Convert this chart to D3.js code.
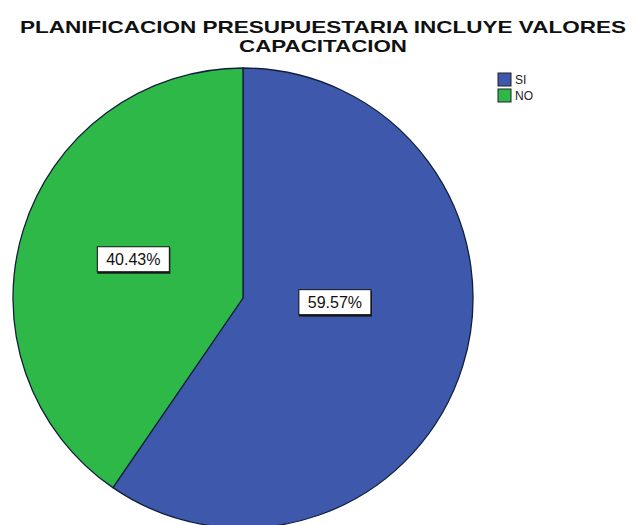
<!DOCTYPE html>
<html>
<head>
<meta charset="utf-8">
<script src="https://cdn.jsdelivr.net/npm/d3@7/dist/d3.min.js"></script>
<style>
  html, body { margin: 0; padding: 0; background: #fff; }
  svg { display: block; }
</style>
</head>
<body>
<svg id="chart" width="634" height="525"></svg>
<script>
// Survey answer: does the budget plan include training values?
const categories = ["SI", "NO"];
const percents = [59.57, 40.43];
const titleLines = ["PLANIFICACION PRESUPUESTARIA INCLUYE VALORES", "CAPACITACION"];

const colors = d3.scaleOrdinal().domain(categories).range(["#3e58ac", "#2eb848"]);

const svg = d3.select("#chart");
const cx = 243, cy = 298, radius = 230;

// Title, two tight lines
svg.append("g")
  .selectAll("text")
  .data(titleLines)
  .join("text")
  .attr("x", 323)
  .attr("y", (d, i) => 33 + i * 19)
  .attr("text-anchor", "middle")
  .attr("font-family", "Liberation Sans, Arial, sans-serif")
  .attr("font-weight", "bold")
  .attr("font-size", 17)
  .attr("fill", "#111")
  .attr("textLength", (d, i) => i === 0 ? 606 : 168)
  .attr("lengthAdjust", "spacingAndGlyphs")
  .text(d => d);

// Pie, starting at 12 o'clock going clockwise
const data = categories.map((c, i) => ({ cat: c, value: percents[i] }));
const pie = d3.pie().sort(null).value(d => d.value);
const arcs = pie(data);
const arc = d3.arc().innerRadius(0).outerRadius(radius);

const g = svg.append("g").attr("transform", `translate(${cx},${cy})`);
g.selectAll("path.slice")
  .data(arcs)
  .join("path")
  .attr("class", "slice")
  .attr("d", arc)
  .attr("fill", d => colors(d.data.cat))
  .attr("stroke", "#10203a")
  .attr("stroke-width", 1.3)
  .attr("stroke-linejoin", "round");

// Label placement: angle shift (radians) and radius fraction per slice
const labelLayout = {
  SI: { shift: -0.25, frac: 0.40 },
  NO: { shift: 0.035, frac: 0.505 }
};
const fmt = d => d3.format(".2f")(d) + "%";

const labels = g.selectAll("g.lbl")
  .data(arcs)
  .join("g")
  .attr("class", "lbl")
  .attr("transform", d => {
    const L = labelLayout[d.data.cat];
    const a = (d.startAngle + d.endAngle) / 2 + L.shift;
    const r = radius * L.frac;
    return `translate(${Math.sin(a) * r},${-Math.cos(a) * r})`;
  });

labels.append("rect")
  .attr("x", -36).attr("y", -12)
  .attr("width", 73).attr("height", 26)
  .attr("fill", "#1a1a1a");
labels.append("rect")
  .attr("x", -36).attr("y", -13)
  .attr("width", 72).attr("height", 25)
  .attr("fill", "#fff")
  .attr("stroke", "#111")
  .attr("stroke-width", 1);
labels.append("text")
  .attr("x", 0).attr("y", 5.5)
  .attr("text-anchor", "middle")
  .attr("font-family", "Liberation Sans, Arial, sans-serif")
  .attr("font-size", 16)
  .attr("fill", "#111")
  .text(d => fmt(d.data.value));

// Legend
const legend = svg.append("g").attr("transform", "translate(498,73)");
const item = legend.selectAll("g")
  .data(categories)
  .join("g")
  .attr("transform", (d, i) => `translate(0,${i * 16})`);
item.append("rect")
  .attr("width", 13).attr("height", 13)
  .attr("fill", d => colors(d))
  .attr("stroke", "#222")
  .attr("stroke-width", 1);
item.append("text")
  .attr("x", 17).attr("y", 11)
  .attr("font-family", "Liberation Sans, Arial, sans-serif")
  .attr("font-size", 12)
  .attr("fill", "#222")
  .text(d => d);
</script>
</body>
</html>
